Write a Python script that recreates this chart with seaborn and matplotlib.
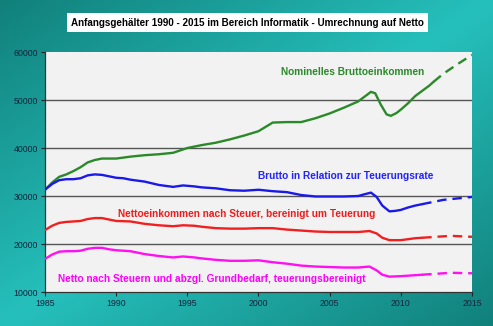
import numpy as np
import pandas as pd
import matplotlib
matplotlib.use("Agg")
import matplotlib.pyplot as plt
import seaborn as sns

# ---------------- data ----------------
green_years = [1985, 1985.5, 1986, 1986.5, 1987, 1987.5, 1988, 1988.5, 1989, 1990, 1991, 1992, 1993,
               1994, 1995, 1996, 1997, 1998, 1999, 2000, 2001, 2002, 2003, 2004, 2005, 2006, 2007,
               2007.5, 2007.9, 2008.2, 2008.6, 2009, 2009.3, 2009.7, 2010, 2010.5, 2011, 2011.5, 2012, 2012.3]
green = [31300, 32800, 34000, 34500, 35200, 36000, 37000, 37500, 37800, 37800, 38200, 38500, 38700,
         39000, 40000, 40600, 41100, 41800, 42600, 43500, 45300, 45400, 45400, 46200, 47200, 48400, 49700,
         50800, 51700, 51400, 49000, 47000, 46700, 47300, 48000, 49300, 50800, 51900, 53000, 53800]
green_dash_years = [2012.3, 2013, 2014, 2015]
green_dash = [53800, 55500, 57500, 59400]

blue_years = [1985, 1985.5, 1986, 1986.5, 1987, 1987.5, 1988, 1988.5, 1989, 1989.5, 1990, 1990.5, 1991,
              1992, 1993, 1994, 1994.7, 1995.5, 1996, 1997, 1998, 1999, 2000, 2001, 2002, 2003, 2004,
              2005, 2006, 2007, 2007.5, 2007.9, 2008.3, 2008.7, 2009.2, 2009.6, 2010, 2010.5, 2011, 2011.5]
blue = [31300, 32500, 33300, 33500, 33500, 33700, 34300, 34500, 34400, 34100, 33800, 33700, 33400,
        33000, 32300, 31900, 32200, 32000, 31800, 31600, 31200, 31100, 31300, 31000, 30800, 30200, 29900,
        29900, 29900, 30000, 30400, 30700, 29800, 28000, 26800, 26900, 27100, 27600, 28000, 28300]
blue_dash_years = [2011.5, 2013, 2015]
blue_dash = [28300, 29200, 29800]

net_years = [1985, 1985.5, 1986, 1986.5, 1987, 1987.5, 1988, 1988.5, 1989, 1989.5, 1990, 1991, 1992,
             1993, 1994, 1994.7, 1995.5, 1996, 1997, 1998, 1999, 2000, 2001, 2002, 2003, 2004, 2005,
             2006, 2007, 2007.8, 2008.3, 2008.7, 2009.2, 2010, 2010.5, 2011, 2011.5]
red = [22900, 23800, 24400, 24600, 24700, 24800, 25200, 25400, 25400, 25100, 24800, 24700, 24200,
       23900, 23700, 23900, 23800, 23600, 23300, 23200, 23200, 23300, 23300, 23000, 22800, 22600, 22500,
       22500, 22500, 22700, 22200, 21300, 20800, 20800, 21000, 21200, 21300]
red_dash_years = [2011.5, 2013.5, 2015]
red_dash = [21300, 21700, 21500]

magenta = [16900, 17800, 18400, 18500, 18500, 18600, 19000, 19200, 19200, 18900, 18700, 18500, 17900,
           17500, 17200, 17400, 17200, 17000, 16700, 16500, 16500, 16600, 16200, 15900, 15500, 15300, 15200,
           15100, 15100, 15300, 14500, 13600, 13200, 13300, 13400, 13500, 13600]
magenta_dash_years = [2011.5, 2013.5, 2015]
magenta_dash = [13600, 14000, 13900]

x_ticks = [1985, 1990, 1995, 2000, 2005, 2010, 2015]
y_ticks = [10000, 20000, 30000, 40000, 50000, 60000]

title = "Anfangsgehälter 1990 - 2015 im Bereich Informatik - Umrechnung auf Netto"
labels = ["Nominelles Bruttoeinkommen",
          "Brutto in Relation zur Teuerungsrate",
          "Nettoeinkommen nach Steuer, bereinigt um Teuerung",
          "Netto nach Steuern und abzgl. Grundbedarf, teuerungsbereinigt"]

# ---------------- style ----------------
sns.set_theme(style="white")
plt.rcParams['font.family'] = ['Liberation Sans', 'DejaVu Sans']

fig = plt.figure(figsize=(4.93, 3.26), dpi=100)

# gradient background
bg = fig.add_axes([0, 0, 1, 1], zorder=-10)
gx, gy = np.meshgrid(np.linspace(0, 1, 200), np.linspace(0, 1, 200))
t = np.abs(gx + gy - 1.0)  # 0 on anti-diagonal (light), 1 at TL/BR corners (dark)
dark = np.array([17, 128, 123]) / 255
light = np.array([38, 192, 188]) / 255
img = light[None, None, :] * (1 - t[..., None]) + dark[None, None, :] * t[..., None]
bg.imshow(img, aspect='auto', extent=[0, 1, 0, 1], origin='upper')
bg.set_axis_off()

ax = fig.add_axes([45 / 493, 1 - 292 / 326, (472 - 45) / 493, (292 - 52) / 326])
ax.set_facecolor('#f2f2f2')

c_green = '#2a8a2a'
c_blue = '#1a1ae8'
c_red = '#f02020'
c_mag = '#ff10f0'

lw = 1.7
series = [
    (green_years, green, green_dash_years, green_dash, c_green),
    (blue_years, blue, blue_dash_years, blue_dash, c_blue),
    (net_years, red, red_dash_years, red_dash, c_red),
    (net_years, magenta, magenta_dash_years, magenta_dash, c_mag),
]
for xs, ys, dxs, dys, col in series:
    sns.lineplot(x=xs, y=ys, color=col, lw=lw, ax=ax, zorder=3)
    sns.lineplot(x=dxs, y=dys, color=col, lw=lw, ax=ax, zorder=3,
                 linestyle=(0, (4, 2.5)))

ax.set_xlim(1985, 2015)
ax.set_ylim(10000, 60000)
ax.set_xticks(x_ticks)
ax.set_yticks(y_ticks)
ax.set_xticklabels([str(v) for v in x_ticks])
ax.set_yticklabels([str(v) for v in y_ticks])
for yv in [20000, 30000, 40000, 50000]:
    ax.axhline(yv, color='#555555', lw=1.0, zorder=1)

ax.tick_params(axis='both', which='both', direction='out', length=3, width=0.8,
               colors='#222222', labelsize=6.3, labelcolor='#13233a', pad=2,
               bottom=True, left=True)
for s in ['top', 'right']:
    ax.spines[s].set_visible(False)
for s in ['left', 'bottom']:
    ax.spines[s].set_color('#333333')
    ax.spines[s].set_linewidth(0.9)
ax.set_xlabel('')
ax.set_ylabel('')

# series labels
fs = 7.3
ax.text(2006.6, 55850, labels[0], color=c_green, fontsize=fs, fontweight='bold', ha='center', va='center')
ax.text(2006.15, 34270, labels[1], color='#2222ff', fontsize=fs, fontweight='bold', ha='center', va='center')
ax.text(1999.2, 26180, labels[2], color='#ee1c1c', fontsize=fs, fontweight='bold', ha='center', va='center')
ax.text(1996.7, 12700, labels[3], color='#ff00ff', fontsize=fs, fontweight='bold', ha='center', va='center')

# title in white box
fig.text(0.502, 1 - 22.5 / 326, title, fontsize=7.1, fontweight='bold', color='black',
         ha='center', va='center',
         bbox=dict(boxstyle='square,pad=0.45', facecolor='white', edgecolor='none'))

fig.savefig('out.png', dpi=100)
